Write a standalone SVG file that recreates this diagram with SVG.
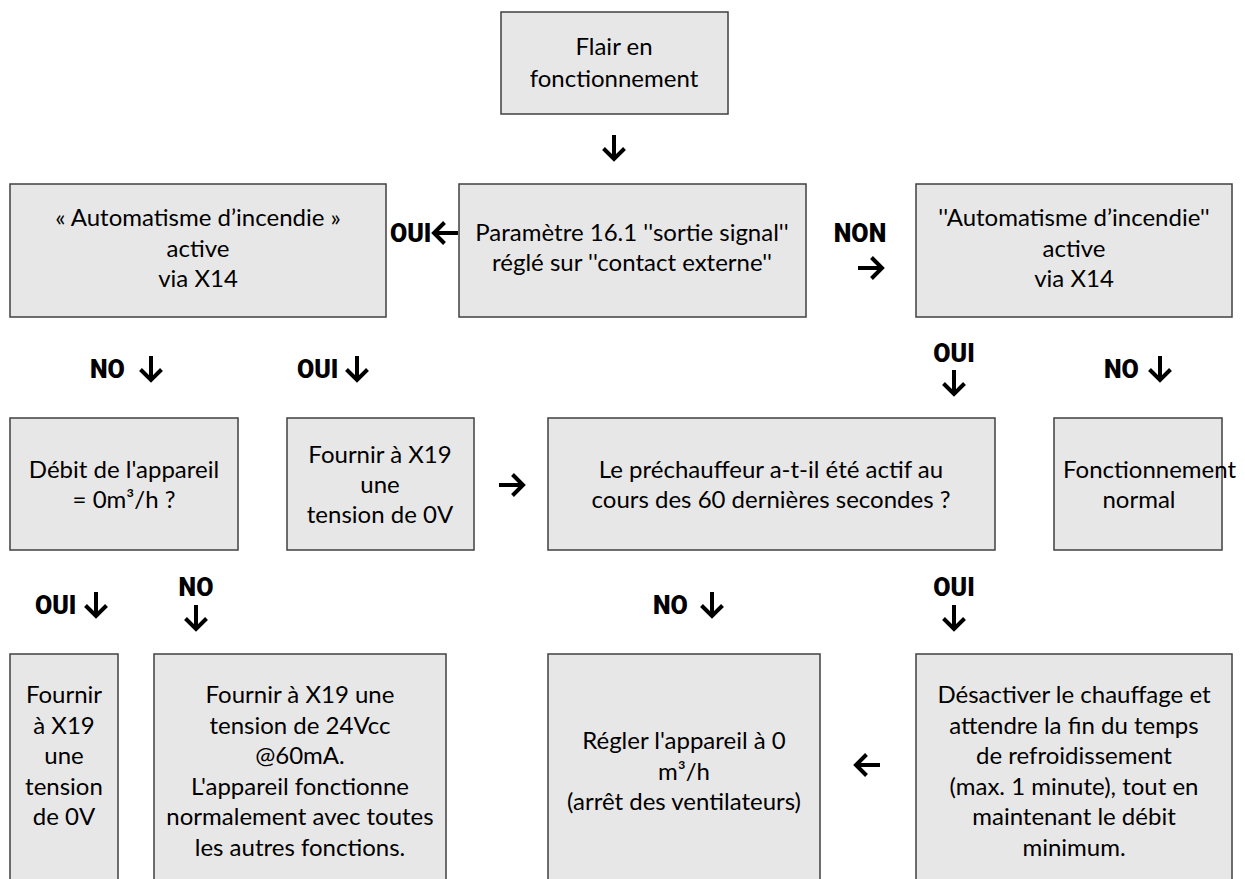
<svg xmlns="http://www.w3.org/2000/svg" xmlns:xlink="http://www.w3.org/1999/xlink" width="1245" height="879" viewBox="0 0 1245 879">
<style>
.box{fill:#e7e7e7;stroke:#404040;stroke-width:1.5}
.t{font-family:Lato,"Liberation Sans",sans-serif;font-size:24px;fill:#000;text-anchor:middle}
.lb{font-family:Roboto,"DejaVu Sans",sans-serif;font-weight:900;font-size:25px;fill:#000}
.ar{fill:none;stroke:#000;stroke-width:4;stroke-linejoin:miter;stroke-linecap:butt}
</style>
<defs>
<path id="ad" d="M0,-13 V11 M-10.5,0.5 L0,11 L10.5,0.5"/>
</defs>
<rect width="1245" height="879" fill="#fff"/>
<g id="n-start"><rect class="box" x="501" y="12" width="227" height="102"/>
<text class="t" x="614" y="55">Flair en</text><text class="t" x="614" y="87">fonctionnement</text></g>
<g id="n-param"><rect class="box" x="459" y="184" width="347" height="133"/>
<text class="t" x="632" y="241">Paramètre 16.1 ''sortie signal''</text><text class="t" x="632" y="271">réglé sur ''contact externe''</text></g>
<g id="n-auto-left"><rect class="box" x="10" y="184" width="376" height="133"/>
<text class="t" x="198" y="226">« Automatisme d’incendie »</text><text class="t" x="198" y="257">active</text><text class="t" x="198" y="287">via X14</text></g>
<g id="n-auto-right"><rect class="box" x="916" y="184" width="316" height="133"/>
<text class="t" x="1074" y="226">''Automatisme d’incendie''</text><text class="t" x="1074" y="257">active</text><text class="t" x="1074" y="287">via X14</text></g>
<g id="n-debit"><rect class="box" x="10" y="418" width="228" height="132"/>
<text class="t" x="124" y="478">Débit de l'appareil</text><text class="t" x="124" y="508">= 0m³/h ?</text></g>
<g id="n-fournir0"><rect class="box" x="287" y="418" width="187" height="132"/>
<text class="t" x="380" y="463">Fournir à X19</text><text class="t" x="380" y="493">une</text><text class="t" x="380" y="523">tension de 0V</text></g>
<g id="n-prechauf"><rect class="box" x="548" y="418" width="447" height="132"/>
<text class="t" x="771" y="478">Le préchauffeur a-t-il été actif au</text><text class="t" x="771" y="508">cours des 60 dernières secondes ?</text></g>
<g id="n-normal"><rect class="box" x="1054" y="418" width="168" height="132"/>
<text class="t" x="1063" y="478" style="text-anchor:start">Fonctionnement</text><text class="t" x="1139" y="508">normal</text></g>
<g id="n-fournir0b"><rect class="box" x="10" y="654" width="108" height="240"/>
<text class="t" x="64" y="703">Fournir</text><text class="t" x="64" y="734">à X19</text><text class="t" x="64" y="764">une</text><text class="t" x="64" y="795">tension</text><text class="t" x="64" y="825">de 0V</text></g>
<g id="n-fournir24"><rect class="box" x="154" y="654" width="292" height="240"/>
<text class="t" x="300" y="703">Fournir à X19 une</text><text class="t" x="300" y="734">tension de 24Vcc</text><text class="t" x="300" y="764">@60mA.</text><text class="t" x="300" y="795">L'appareil fonctionne</text><text class="t" x="300" y="825">normalement avec toutes</text><text class="t" x="300" y="856">les autres fonctions.</text></g>
<g id="n-regler"><rect class="box" x="548" y="654" width="272" height="240"/>
<text class="t" x="684" y="749">Régler l'appareil à 0</text><text class="t" x="684" y="780">m³/h</text><text class="t" x="684" y="810">(arrêt des ventilateurs)</text></g>
<g id="n-desact"><rect class="box" x="916" y="654" width="316" height="240"/>
<text class="t" x="1074" y="703">Désactiver le chauffage et</text><text class="t" x="1074" y="734">attendre la fin du temps</text><text class="t" x="1074" y="764">de refroidissement</text><text class="t" x="1074" y="795">(max. 1 minute), tout en</text><text class="t" x="1074" y="825">maintenant le débit</text><text class="t" x="1074" y="856">minimum.</text></g>
<g id="connectors">
<use class="ar" href="#ad" x="614" y="148"/>
<use class="ar" href="#ad" transform="translate(445,233) rotate(90)"/>
<use class="ar" href="#ad" transform="translate(871,268) rotate(-90)"/>
<use class="ar" href="#ad" x="151" y="369"/>
<use class="ar" href="#ad" x="357" y="369"/>
<use class="ar" href="#ad" x="954" y="383"/>
<use class="ar" href="#ad" x="1160" y="369"/>
<use class="ar" href="#ad" transform="translate(512,485) rotate(-90)"/>
<use class="ar" href="#ad" x="96" y="605"/>
<use class="ar" href="#ad" x="196" y="618"/>
<use class="ar" href="#ad" x="712" y="605"/>
<use class="ar" href="#ad" x="954" y="618"/>
<use class="ar" href="#ad" transform="translate(867,765) rotate(90)"/>
<text class="lb" x="390" y="242">OUI</text>
<text class="lb" x="860" y="242" text-anchor="middle">NON</text>
<text class="lb" x="90" y="378">NO</text>
<text class="lb" x="297" y="378">OUI</text>
<text class="lb" x="954" y="362" text-anchor="middle">OUI</text>
<text class="lb" x="1104" y="378">NO</text>
<text class="lb" x="35" y="614">OUI</text>
<text class="lb" x="196" y="596" text-anchor="middle">NO</text>
<text class="lb" x="653" y="614">NO</text>
<text class="lb" x="954" y="596" text-anchor="middle">OUI</text>
</g>
</svg>
